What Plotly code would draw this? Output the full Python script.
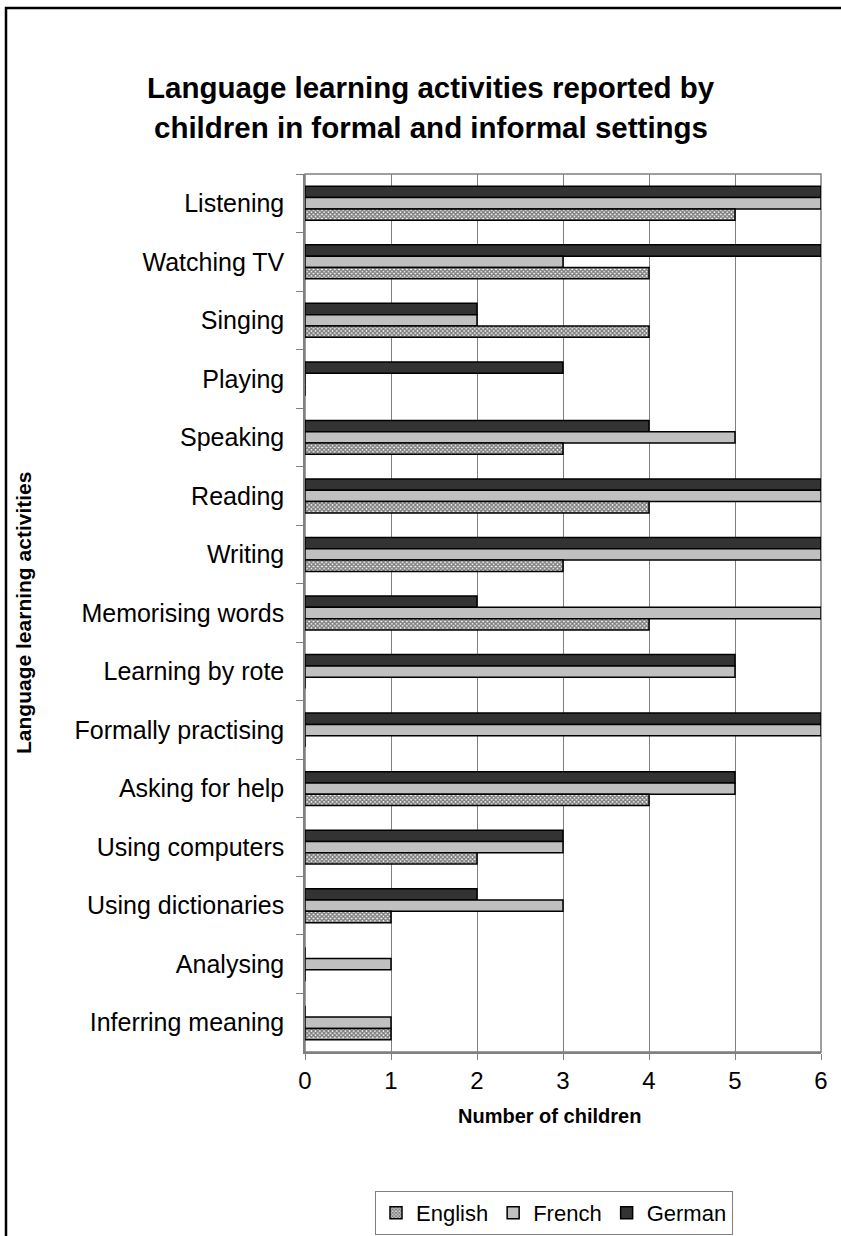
import plotly.graph_objects as go

categories = ["Listening", "Watching TV", "Singing", "Playing", "Speaking", "Reading",
              "Writing", "Memorising words", "Learning by rote", "Formally practising",
              "Asking for help", "Using computers", "Using dictionaries", "Analysing",
              "Inferring meaning"]
english = [5, 4, 4, 0, 3, 4, 3, 4, 0, 0, 4, 2, 1, 0, 1]
french = [6, 3, 2, 0, 5, 6, 6, 6, 5, 6, 5, 3, 3, 1, 1]
german = [6, 6, 2, 3, 4, 6, 6, 2, 5, 6, 5, 3, 2, 0, 0]
x_ticks = [0, 1, 2, 3, 4, 5, 6]

FONT = "Liberation Sans, Arial, sans-serif"
W, H = 841, 1236
L, R, T, B = 305, 20, 174, 184
pw, ph = W - L - R, H - T - B

def px(x):
    return (x - L) / pw

def py(y):
    return (H - B - y) / ph

fig = go.Figure()
fig.add_trace(go.Bar(y=categories, x=german, name="German", orientation="h",
                     marker=dict(color="#333333", line=dict(color="black", width=1.5))))
fig.add_trace(go.Bar(y=categories, x=french, name="French", orientation="h",
                     marker=dict(color="#c0c0c0", line=dict(color="black", width=1.5))))
fig.add_trace(go.Bar(y=categories, x=english, name="English", orientation="h",
                     marker=dict(color="white", line=dict(color="black", width=1.5),
                                 pattern=dict(shape="x", fgcolor="#000000", bgcolor="white",
                                              size=3, solidity=0.75))))

fig.update_layout(
    width=W, height=H,
    margin=dict(l=L, r=R, t=T, b=B, autoexpand=False),
    paper_bgcolor="white", plot_bgcolor="white",
    barmode="group", bargap=0.42, bargroupgap=0,
    font=dict(family=FONT, color="black"),
    showlegend=True,
    legend=dict(orientation="h", traceorder="reversed", x=px(554), xanchor="center",
                y=py(1213), yanchor="middle", font=dict(size=22),
                bordercolor="#808080", borderwidth=1, itemwidth=30),
    xaxis=dict(range=[0, 6], tickvals=x_ticks, showgrid=True, gridcolor="#808080",
               gridwidth=1, ticks="outside", ticklen=6, tickcolor="#808080",
               showline=True, linecolor="#808080", linewidth=1.5, mirror=False,
               tickfont=dict(size=24), zeroline=False),
    yaxis=dict(autorange="reversed", ticks="outside", tickson="boundaries", ticklen=7,
               tickcolor="#808080", showline=True, linecolor="#808080", linewidth=1.5,
               tickfont=dict(size=25), ticklabelstandoff=14),
    annotations=[
        dict(text="<b>Language learning activities reported by</b>", x=px(431), y=py(88),
             xref="paper", yref="paper", xanchor="center", yanchor="middle",
             showarrow=False, font=dict(size=29.5)),
        dict(text="<b>children in formal and informal settings</b>", x=px(431), y=py(128),
             xref="paper", yref="paper", xanchor="center", yanchor="middle",
             showarrow=False, font=dict(size=29.5)),
        dict(text="<b>Language learning activities</b>", x=px(23), y=py(613),
             xref="paper", yref="paper", xanchor="center", yanchor="middle",
             textangle=-90, showarrow=False, font=dict(size=21)),
        dict(text="<b>Number of children</b>", x=px(549), y=py(1116),
             xref="paper", yref="paper", xanchor="center", yanchor="middle",
             showarrow=False, font=dict(size=20)),
    ],
    shapes=[
        dict(type="rect", xref="paper", yref="paper", x0=0, x1=1, y0=0, y1=1,
             line=dict(color="#808080", width=1.5), layer="below"),
        dict(type="rect", xref="paper", yref="paper", x0=px(6), x1=px(850), y0=py(1250),
             y1=py(8), line=dict(color="black", width=2.5)),
    ],
)

fig.write_html("out.html", config={"displayModeBar": False},
               post_script="document.body.style.margin='0';document.body.style.overflow='hidden';")
